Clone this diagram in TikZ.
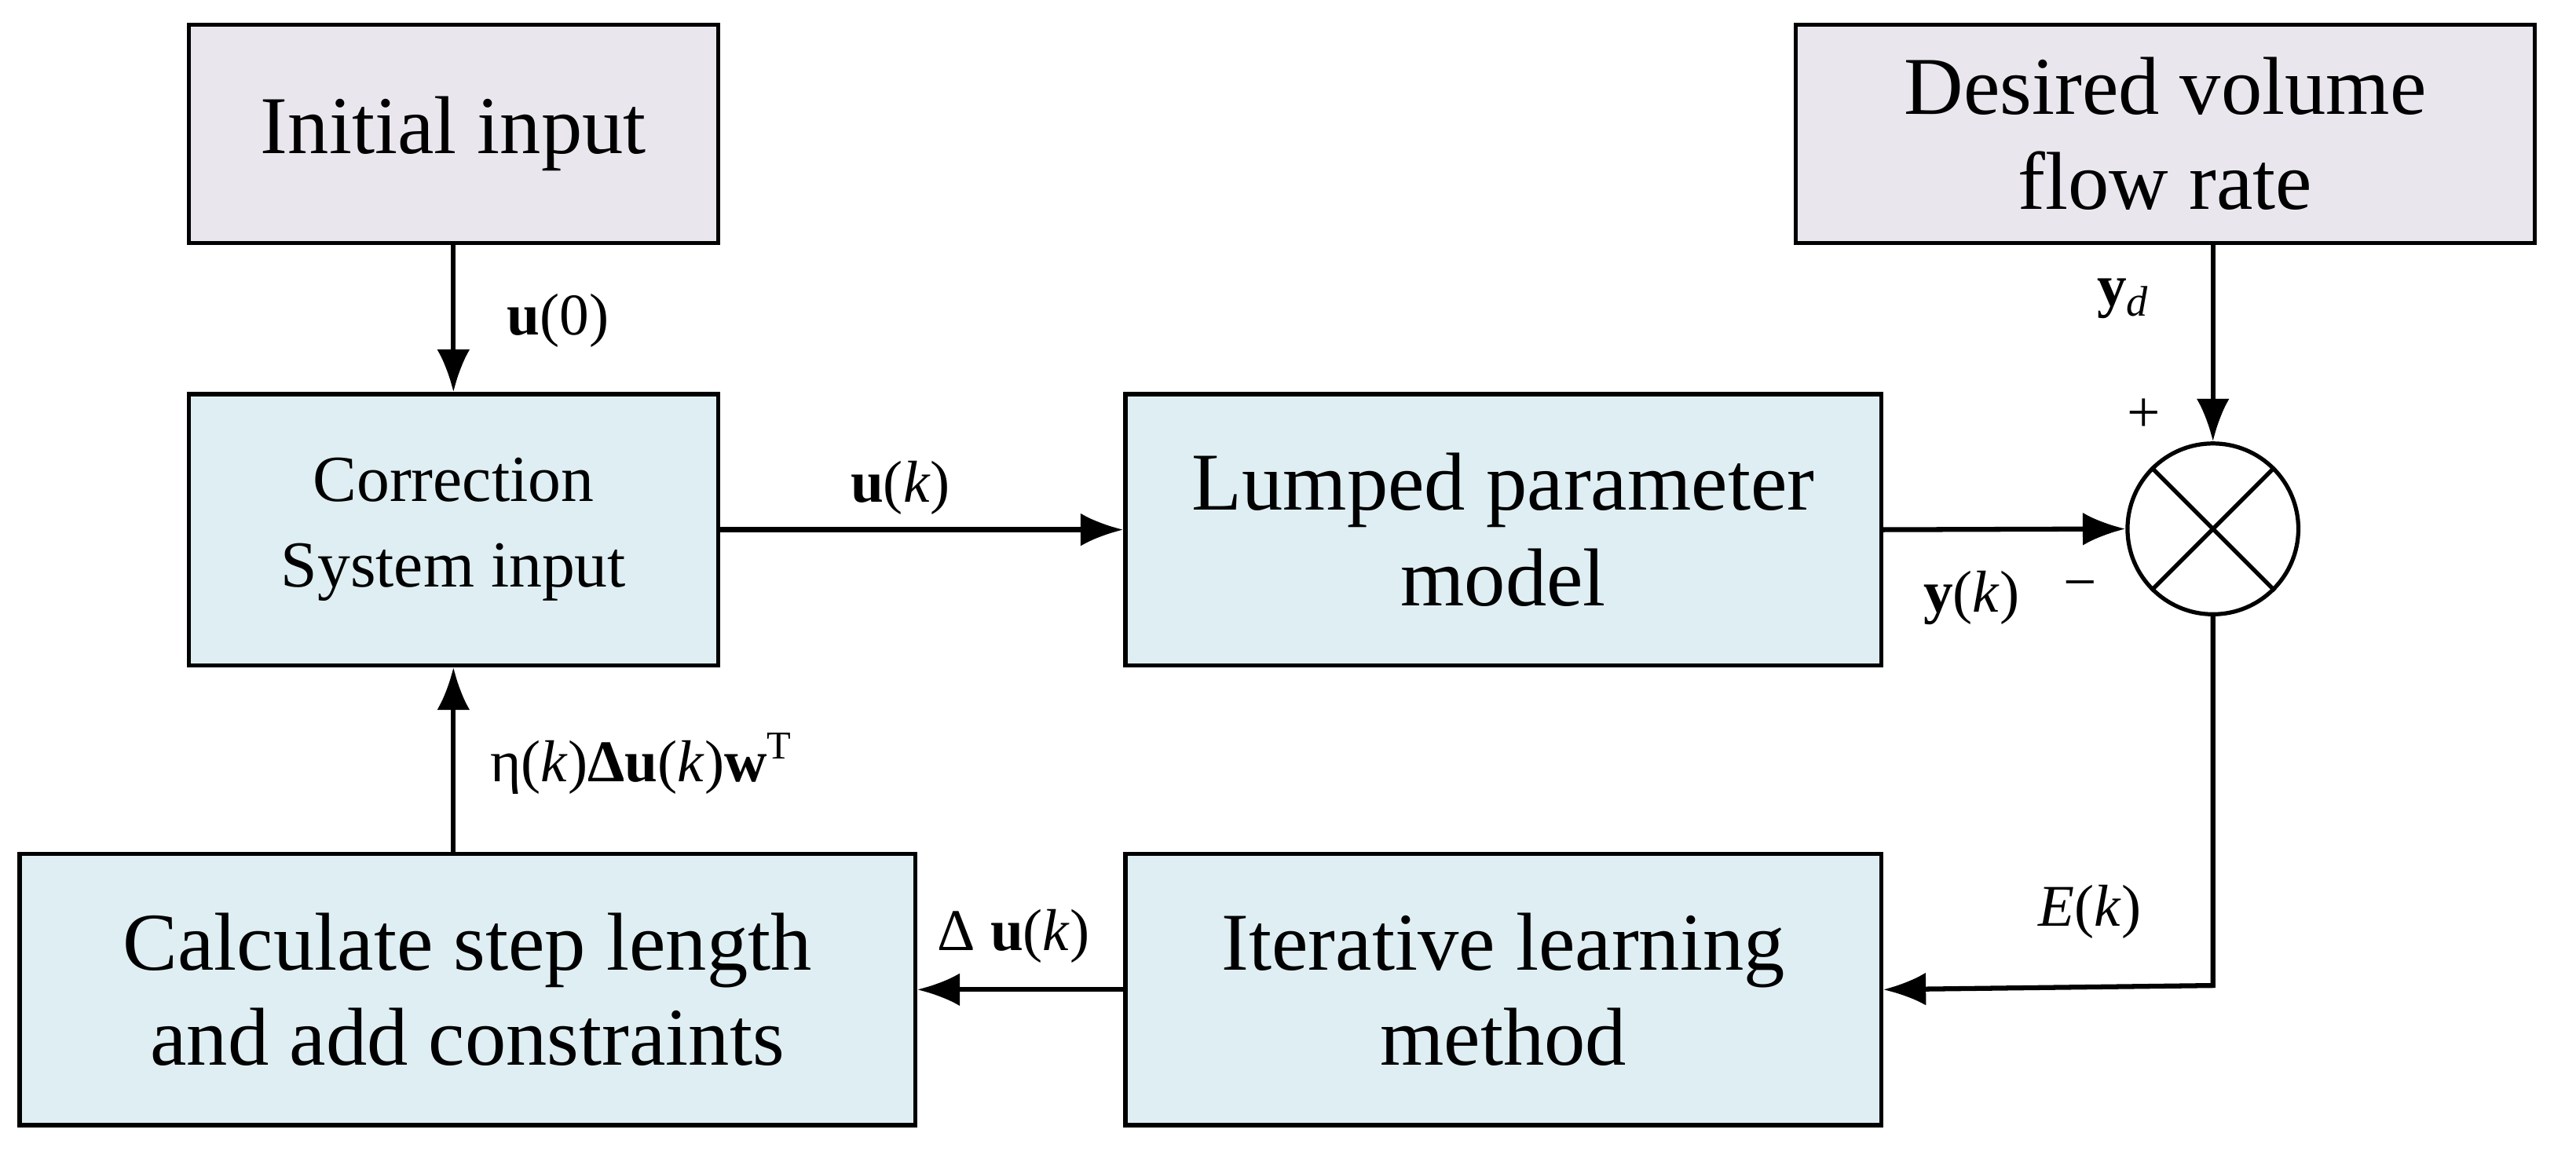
\documentclass[tikz,border=0pt]{standalone}
\usepackage{fontspec}
\setmainfont{Liberation Serif}
\usetikzlibrary{arrows.meta}
\begin{document}
\begin{tikzpicture}[x=1pt,y=-1pt,
 box/.style={draw,line width=2.5pt,inner sep=0pt,align=center,font=\fontsize{50}{58}\selectfont},
 gray/.style={box,fill={rgb,255:red,234;green,230;blue,238}},
 blue/.style={box,fill={rgb,255:red,222;green,238;blue,243}},
 arr/.style={line width=3pt,-{Latex[length=26pt,width=20pt]}},
 lab/.style={font=\fontsize{36}{40}\selectfont}]
\useasboundingbox (0,0) rectangle (1568,703);
\node[gray,minimum width=322pt,minimum height=133pt] (init) at (276,81.5) {Initial input};
\node[gray,minimum width=450pt,minimum height=133pt] (des) at (1318,81.5) {Desired volume\\flow rate};
\node[blue,minimum width=322pt,minimum height=165pt,font=\fontsize{40}{52}\selectfont] (corr) at (276,322.5) {Correction\\System input};
\node[blue,minimum width=460pt,minimum height=165pt] (lump) at (915,322.5) {Lumped parameter\\model};
\node[draw,circle,line width=2.5pt,minimum size=104pt,fill=white] (sum) at (1347,322) {};
\draw[line width=2.5pt] (sum.north west)--(sum.south east) (sum.north east)--(sum.south west);
\node[blue,minimum width=545pt,minimum height=165pt] (calc) at (284.5,602.5) {Calculate step length\\and add constraints};
\node[blue,minimum width=460pt,minimum height=165pt] (iter) at (915,602.5) {Iterative learning\\method};
\draw[arr] (init.south) -- (corr.north);
\node[lab,anchor=west] (l1) at (305,195) {\textbf{u}(0)};
\draw[arr] (corr.east) -- (lump.west);
\node[lab] (l2) at (548,297) {\textbf{u}(\textit{k})};
\draw[arr] (lump.east) -- (sum.west);
\node[lab] (l3) at (1200,364) {\textbf{y}(\textit{k})};
\node[lab] (l4) at (1266,360) {−};
\draw[arr] (des.south -| sum.north) -- (sum.north);
\node[lab] (l5) at (1292,182) {\textbf{y}\textit{\fontsize{26}{30}\selectfont\raisebox{-6pt}{d}}};
\node[lab] (l6) at (1305,253) {+};
\coordinate (c1) at (1347,600);
\draw[arr] (sum.south) -- (c1) -- (iter.east);
\node[lab] (l7) at (1272,555) {\textit{E}(\textit{k})};
\draw[arr] (iter.west) -- (calc.east);
\node[lab] (l8) at (617,570) {Δ \textbf{u}(\textit{k})};
\draw[arr] (corr.south |- calc.north) -- (corr.south);
\node[lab,anchor=west] (l9) at (295,465) {η(\textit{k})\textbf{Δu}(\textit{k})\textbf{w}\raisebox{14pt}{\fontsize{24}{28}\selectfont T}};
\end{tikzpicture}
\end{document}
